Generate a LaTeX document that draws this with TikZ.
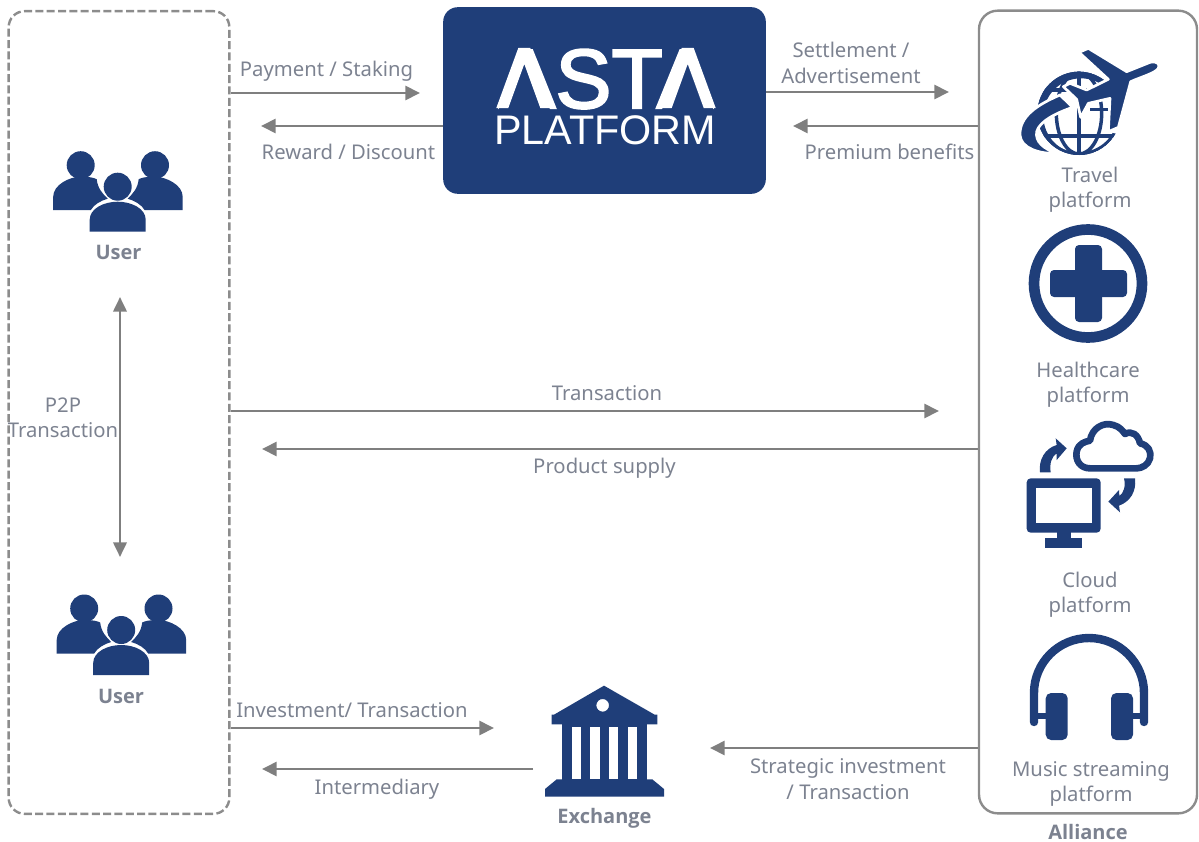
\documentclass[tikz,border=0pt]{standalone}
\usepackage{fontspec}
\setmainfont{Noto Sans}
\newfontfamily\logofont{Liberation Sans}
\newfontfamily\logobold[FakeBold=2.5]{Liberation Sans}
\newfontfamily\labbold{Open Sans}
\usetikzlibrary{arrows.meta}
\definecolor{navy}{HTML}{1F3E79}
\definecolor{linegray}{HTML}{7F7F7F}
\definecolor{txtgray}{HTML}{7C8290}
\definecolor{boxgray}{HTML}{8C8C8C}
\tikzset{
  conn/.style={draw=linegray,line width=2pt,-{Triangle[length=11pt,width=10.5pt]}},
  conn2/.style={draw=linegray,line width=2pt,{Triangle[length=11pt,width=10pt]}-{Triangle[length=11pt,width=10pt]}},
  lab/.style={text=txtgray,font=\fontsize{15.2}{19}\selectfont,inner sep=0pt,align=center},
  blab/.style={text=txtgray,font=\labbold\fontsize{15}{19}\selectfont\bfseries,inner sep=0pt,align=center},
  iconz/.style={x=.25pt,y=-.25pt},
  pics/people/.style={code={
    \fill[navy] (-37,-21.5) circle (14);
    \fill[navy] (37.3,-21.5) circle (14);
    \fill[navy] (0,0) circle (14);
    \fill[navy] (-64.5,23.5) -- (-64.5,10) .. controls (-64.5,-2) and (-48,-10) .. (-37,-10) .. controls (-28,-10) and (-24,-9) .. (-21,-7.5) .. controls (-20,2) and (-15,7) .. (-10,12) .. controls (-17,14) and (-24,18) .. (-27,23.5) -- cycle;
    \fill[navy] (65,23.5) -- (65,10) .. controls (65,-2) and (48,-10) .. (37,-10) .. controls (28,-10) and (24,-9) .. (21,-7.5) .. controls (20,2) and (15,7) .. (10,12) .. controls (17,14) and (24,18) .. (27,23.5) -- cycle;
    \fill[navy] (-28,45) -- (-28,33) .. controls (-28,22) and (-14,15) .. (0,15) .. controls (14,15) and (28,22) .. (28,33) -- (28,45) -- cycle;
  }},
  pics/lambda/.style={code={
    \fill[navy] (0,12) -- (26,62) -- (-26,62) -- cycle;
    \fill[white] (-28,60) -- (-6,0) -- (6,0) -- (28,60) -- (16,60) -- (0,16) -- (-16,60) -- cycle;
  }}
}
\begin{document}
\begin{tikzpicture}[x=.75pt,y=-.75pt]
\useasboundingbox (0,0) rectangle (1199,842);
% containers
\node[draw=boxgray,dash pattern=on 6pt off 2.5pt,line width=1.8pt,rounded corners=12pt,minimum width=165.5pt,minimum height=602pt,inner sep=0pt] (userbox) at (119,412.5) {};
\node[draw=boxgray,line width=1.8pt,rounded corners=14pt,minimum width=163.5pt,minimum height=602pt,inner sep=0pt] (alliance) at (1088,412) {};
\node[fill=navy,rounded corners=11pt,minimum width=242pt,minimum height=140pt,inner sep=0pt] (platform) at (604.5,100.5) {};
% logo
\node[inner sep=0pt,text=white,text depth=0pt,font=\logobold\fontsize{63}{64}\selectfont,anchor=base] (astatxt) at (606,108) {ASTA};
\pic (logoa1) at (524.3,48) {lambda};
\pic (logoa2) at (687.7,48) {lambda};
\node[inner sep=0pt,text=white,text depth=0pt,font=\logofont\fontsize{31}{31}\selectfont,anchor=base] (platxt) at (605,144.5) {PLATFORM};
% people
\pic (people1) at (117.7,186.7) {people};
\pic (people2) at (121.2,630) {people};
\node[blab] (user1) at (118.5,252.5) {User};
\node[blab] (user2) at (121,696.5) {User};
% exchange icon
\begin{scope}[shift={(530,670)},iconz]
  \fill[navy,even odd rule] (222,47) -- (374,134) -- (382,134) -- (382,163) -- (65,163) -- (65,134) -- (72,134) -- cycle (218,106) circle (19);
  \fill[navy] (97,160) rectangle (350,332);
  \foreach \xx in {125,181,237,293} {\fill[white] (\xx,170) rectangle ++(28,158);}
  \fill[navy] (80,328) -- (367,328) -- (402,357) -- (402,380) -- (45,380) -- (45,357) -- cycle;
\end{scope}
\node[blab] (exchange) at (604.5,818) {Exchange};
% alliance icons: travel
\begin{scope}[shift={(980,20)},iconz]
  \begin{scope}
    \clip (297,280) circle (125);
    \fill[navy,even odd rule] (297,280) circle (125) (303,288) circle (113);
    \draw[navy,line width=2.6pt] (297,280) circle (122);
    \draw[navy,line width=2.6pt] (297,280) ellipse (68 and 122);
    \draw[navy,line width=2.6pt] (297,150) -- (297,405);
    \draw[navy,line width=2.6pt] (170,210) -- (420,210);
    \draw[navy,line width=2.6pt] (170,348) -- (420,348);
    \draw[navy,line width=2.6pt] (330,268) -- (385,268);
  \end{scope}
  \fill[navy,draw=white,line width=2pt] (240,225) .. controls (170,255) and (118,290) .. (120,345) .. controls (122,385) and (180,402) .. (228,400) .. controls (190,385) and (165,365) .. (170,335) .. controls (178,305) and (225,280) .. (278,262) -- cycle;
  \fill[white] (385,335) -- (420,322) -- (445,200) -- (445,330) -- (425,345) -- cycle;
  \fill[navy,draw=white,line width=2pt,line join=round] (297,97) -- (325,85) -- (440,155) -- (510,127) .. controls (530,122) and (542,132) .. (535,145) .. controls (525,160) and (480,172) .. (452,185) -- (415,322) -- (385,335) -- (390,235) -- (325,250) -- (302,292) -- (290,238) -- (250,200) -- (270,190) -- (320,210) -- (385,178) -- cycle;
\end{scope}
% healthcare
\draw[navy,line width=8pt] (1088,283.5) circle (54);
\fill[navy,rounded corners=3pt] (1075,245) rectangle (1102,322);
\fill[navy,rounded corners=3pt] (1050,270) rectangle (1127,297);
% cloud
\begin{scope}[shift={(1000,410)},iconz]
  \draw[navy,line width=5pt,line join=round] (270,175) .. controls (240,175) and (225,150) .. (230,125) .. controls (235,100) and (255,95) .. (270,92) .. controls (275,55) and (310,35) .. (340,45) .. controls (360,50) and (370,65) .. (375,72) .. controls (395,60) and (415,75) .. (420,100) .. controls (445,105) and (455,125) .. (450,145) .. controls (445,165) and (425,175) .. (410,175) -- cycle;
  \fill[navy,rounded corners=3pt] (80,205) rectangle (302,368);
  \fill[white] (108,233) rectangle (275,340);
  \fill[navy] (170,365) rectangle (212,388);
  \fill[navy] (135,385) rectangle (247,413);
  \fill[navy] (120,187) .. controls (115,150) and (135,115) .. (170,105) -- (167,85) -- (200,115) -- (170,150) -- (170,130) .. controls (155,140) and (148,160) .. (152,187) -- cycle;
  \fill[navy] (372,205) -- (405,205) .. controls (410,245) and (390,275) .. (357,287) -- (360,307) -- (325,275) -- (357,240) -- (358,258) .. controls (370,250) and (378,230) .. (372,205) -- cycle;
\end{scope}
% headphones
\draw[navy,line width=6.3pt,line cap=round] (1034,722) -- (1034,693) arc (180:360:55 and 55) -- (1144,722);
\draw[navy,line width=4pt] (1034,716) -- (1050,716);
\draw[navy,line width=4pt] (1130,716) -- (1144,716);
\fill[navy,rounded corners=4pt] (1045.7,693) rectangle (1067.7,740);
\fill[navy,rounded corners=4pt] (1111,693) rectangle (1133,740);
% alliance labels
\node[lab] (ltravel) at (1090,190) {Travel\\platform};
\node[lab] (lhealth) at (1088,385) {Healthcare\\platform};
\node[lab] (lcloud) at (1090,595) {Cloud\\platform};
\node[lab] (lmusic) at (1091,784) {Music streaming\\platform};
\node[blab] (lalliance) at (1088,832) {Alliance};
% free ends
\coordinate (e1) at (420,93);
\coordinate (e2) at (261,126);
\coordinate (e3) at (949,92);
\coordinate (e4) at (793,126);
\coordinate (e5) at (939,411);
\coordinate (e6) at (262,449);
\coordinate (e7) at (494,728);
\coordinate (e8) at (262,769);
\coordinate (e9) at (710,748);
\coordinate (exr) at (533,769);
\coordinate (p2pt) at (120,297);
\coordinate (p2pb) at (120,557);
% connectors
\draw[conn] (userbox.east |- e1) -- (e1);
\draw[conn] (platform.west |- e2) -- (e2);
\draw[conn] (platform.east |- e3) -- (e3);
\draw[conn] (alliance.west |- e4) -- (e4);
\draw[conn] (userbox.east |- e5) -- (e5);
\draw[conn] (alliance.west |- e6) -- (e6);
\draw[conn] (userbox.east |- e7) -- (e7);
\draw[conn] (exr) -- (e8);
\draw[conn] (alliance.west |- e9) -- (e9);
\draw[conn2] (p2pt) -- (p2pb);
% connector labels
\node[lab] at (326.5,71) {Payment / Staking};
\node[lab] at (348.5,152) {Reward / Discount};
\node[lab] at (851,63) {Settlement /\\Advertisement};
\node[lab] at (889.5,152) {Premium benefits};
\node[lab] at (607,393) {Transaction};
\node[lab] at (604.5,468) {Product supply};
\node[lab] at (63,417.5) {P2P\\Transaction};
\node[lab] at (352,710) {Investment/ Transaction};
\node[lab] at (377,789) {Intermediary};
\node[lab] at (848,779) {Strategic investment\\/ Transaction};
\end{tikzpicture}
\end{document}
